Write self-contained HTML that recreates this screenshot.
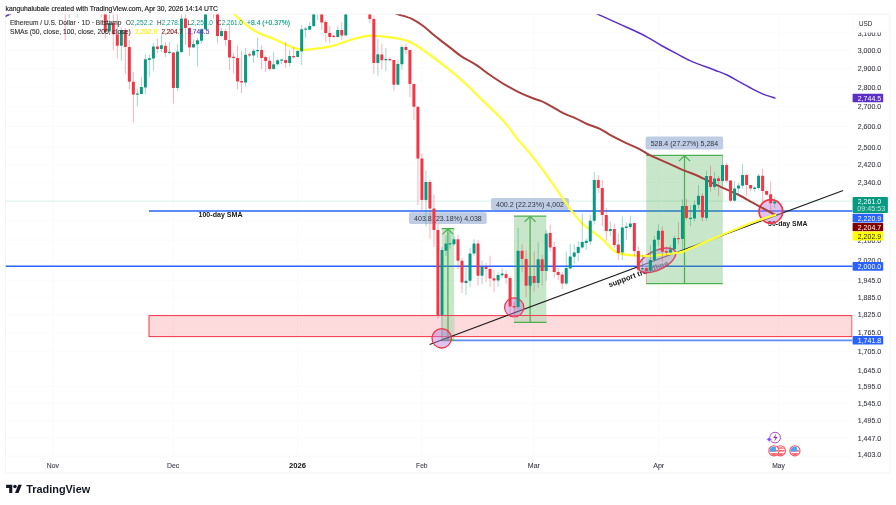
<!DOCTYPE html>
<html lang="en"><head><meta charset="utf-8"><title>ETHUSD chart</title>
<style>html,body{margin:0;padding:0;background:#fff;overflow:hidden}svg{display:block}text{font-family:"Liberation Sans",Arial,sans-serif;}</style></head><body>
<svg width="896" height="505" viewBox="0 0 896 505">
<rect x="0" y="0" width="896" height="505" fill="#ffffff"/>
<g stroke="#fafafb" stroke-width="1" fill="none">
<line x1="5.5" y1="33.0" x2="852" y2="33.0" stroke-opacity="0.8"/>
<line x1="5.5" y1="50.4" x2="852" y2="50.4" stroke-opacity="0.8"/>
<line x1="5.5" y1="68.4" x2="852" y2="68.4" stroke-opacity="0.8"/>
<line x1="5.5" y1="87.1" x2="852" y2="87.1" stroke-opacity="0.8"/>
<line x1="5.5" y1="106.5" x2="852" y2="106.5" stroke-opacity="0.8"/>
<line x1="5.5" y1="126.5" x2="852" y2="126.5" stroke-opacity="0.8"/>
<line x1="5.5" y1="147.4" x2="852" y2="147.4" stroke-opacity="0.8"/>
<line x1="5.5" y1="164.7" x2="852" y2="164.7" stroke-opacity="0.8"/>
<line x1="5.5" y1="182.6" x2="852" y2="182.6" stroke-opacity="0.8"/>
<line x1="5.5" y1="220.3" x2="852" y2="220.3" stroke-opacity="0.8"/>
<line x1="5.5" y1="240.2" x2="852" y2="240.2" stroke-opacity="0.8"/>
<line x1="5.5" y1="260.8" x2="852" y2="260.8" stroke-opacity="0.8"/>
<line x1="5.5" y1="280.9" x2="852" y2="280.9" stroke-opacity="0.8"/>
<line x1="5.5" y1="297.6" x2="852" y2="297.6" stroke-opacity="0.8"/>
<line x1="5.5" y1="314.8" x2="852" y2="314.8" stroke-opacity="0.8"/>
<line x1="5.5" y1="332.6" x2="852" y2="332.6" stroke-opacity="0.8"/>
<line x1="5.5" y1="351.0" x2="852" y2="351.0" stroke-opacity="0.8"/>
<line x1="5.5" y1="370.1" x2="852" y2="370.1" stroke-opacity="0.8"/>
<line x1="5.5" y1="386.5" x2="852" y2="386.5" stroke-opacity="0.8"/>
<line x1="5.5" y1="403.4" x2="852" y2="403.4" stroke-opacity="0.8"/>
<line x1="5.5" y1="420.9" x2="852" y2="420.9" stroke-opacity="0.8"/>
<line x1="5.5" y1="438.3" x2="852" y2="438.3" stroke-opacity="0.8"/>
<line x1="5.5" y1="454.7" x2="852" y2="454.7" stroke-opacity="0.8"/>
<line x1="52.9" y1="14.3" x2="52.9" y2="456" stroke-opacity="0.8"/>
<line x1="173.2" y1="14.3" x2="173.2" y2="456" stroke-opacity="0.8"/>
<line x1="297.5" y1="14.3" x2="297.5" y2="456" stroke-opacity="0.8"/>
<line x1="421.8" y1="14.3" x2="421.8" y2="456" stroke-opacity="0.8"/>
<line x1="533.9" y1="14.3" x2="533.9" y2="456" stroke-opacity="0.8"/>
<line x1="658.7" y1="14.3" x2="658.7" y2="456" stroke-opacity="0.8"/>
<line x1="778.5" y1="14.3" x2="778.5" y2="456" stroke-opacity="0.8"/>
</g>
<g stroke="#f3f4f6" stroke-width="1" fill="none">
<line x1="5.5" y1="14" x2="890" y2="14"/>
<line x1="5.5" y1="14" x2="5.5" y2="473"/>
<line x1="890" y1="14" x2="890" y2="473"/>
<line x1="5.5" y1="473" x2="890" y2="473"/>
<line x1="5.5" y1="456.5" x2="852" y2="456.5" stroke-opacity="0.35"/>
</g>
<defs><clipPath id="pane"><rect x="5.5" y="14.3" width="847" height="442"/></clipPath></defs>
<g clip-path="url(#pane)">
<line x1="5.5" y1="266.2" x2="852.5" y2="266.2" stroke="#2962ff" stroke-width="1.6"/>
<line x1="149" y1="211" x2="852.5" y2="211" stroke="#5b8cf8" stroke-width="2.1"/>
<line x1="441.7" y1="340.3" x2="852.5" y2="340.3" stroke="#5b8cf8" stroke-width="1.8"/>
<line x1="5.5" y1="201.1" x2="852.5" y2="201.1" stroke="#089981" stroke-opacity="0.55" stroke-width="0.6" stroke-dasharray="1 1"/>
<rect x="441.6" y="228.6" width="12.6" height="111.8" fill="#4caf50" fill-opacity="0.31"/>
<g stroke="#4caf50" stroke-width="1.25" fill="none">
<line x1="441.6" y1="228.6" x2="454.2" y2="228.6"/>
<line x1="441.6" y1="340.4" x2="454.2" y2="340.4"/>
<line x1="447.9" y1="228.6" x2="447.9" y2="340.4"/>
<polyline points="442.4,234.4 447.9,228.9 453.4,234.4"/>
</g>
<rect x="409" y="212.3" width="77.7" height="11.6" rx="2" ry="2" fill="#bfcde4"/>
<text x="447.9" y="220.6" font-size="7" fill="#2f3443" text-anchor="middle" textLength="67.7" lengthAdjust="spacingAndGlyphs">403.8 (23.18%) 4,038</text>
<rect x="514.0" y="216.1" width="32.3" height="106.3" fill="#4caf50" fill-opacity="0.31"/>
<g stroke="#4caf50" stroke-width="1.25" fill="none">
<line x1="514.0" y1="216.1" x2="546.3" y2="216.1"/>
<line x1="514.0" y1="322.4" x2="546.3" y2="322.4"/>
<line x1="530.1" y1="216.1" x2="530.1" y2="322.4"/>
<polyline points="524.6,221.9 530.1,216.4 535.6,221.9"/>
</g>
<rect x="491" y="198" width="78.1" height="12.0" rx="2" ry="2" fill="#bfcde4"/>
<text x="530.0" y="206.5" font-size="7" fill="#2f3443" text-anchor="middle" textLength="68.1" lengthAdjust="spacingAndGlyphs">400.2 (22.23%) 4,002</text>
<rect x="646.2" y="155.3" width="76.6" height="128.2" fill="#4caf50" fill-opacity="0.31"/>
<g stroke="#4caf50" stroke-width="1.25" fill="none">
<line x1="646.2" y1="155.3" x2="722.8" y2="155.3"/>
<line x1="646.2" y1="283.5" x2="722.8" y2="283.5"/>
<line x1="684.5" y1="155.3" x2="684.5" y2="283.5"/>
<polyline points="679.0,161.1 684.5,155.6 690.0,161.1"/>
</g>
<rect x="645.6" y="136.5" width="77.5" height="13.1" rx="2" ry="2" fill="#bfcde4"/>
<text x="684.4" y="145.6" font-size="7" fill="#2f3443" text-anchor="middle" textLength="67.5" lengthAdjust="spacingAndGlyphs">528.4 (27.27%) 5,284</text>
<rect x="149" y="315.6" width="703" height="21" fill="#f23645" fill-opacity="0.18" stroke="#f23645" stroke-width="1"/>
<rect x="441.6" y="316.1" width="12.6" height="20" fill="#d3d6c4"/>
<rect x="514.0" y="316.1" width="32.3" height="6.3" fill="#d3d6c4"/>
<g stroke="#4caf50" stroke-width="1.25"><line x1="448" y1="316" x2="448" y2="340.4"/><line x1="530.2" y1="316" x2="530.2" y2="322.4"/><line x1="514" y1="322.4" x2="546.3" y2="322.4"/></g>
<line x1="429.6" y1="344.4" x2="843.1" y2="190.4" stroke="#1e1e1e" stroke-width="1.1"/>
<text x="220.5" y="216.8" font-size="7.7" font-weight="bold" fill="#1a1a1a" text-anchor="middle" textLength="44" lengthAdjust="spacingAndGlyphs">100-day SMA</text>
<text x="787.8" y="226.2" font-size="7.7" font-weight="bold" fill="#1a1a1a" text-anchor="middle" textLength="39.4" lengthAdjust="spacingAndGlyphs">50-day SMA</text>
<text transform="translate(609.4,287.4) rotate(-20.4)" x="0" y="0" font-size="7.6" font-weight="bold" fill="#1a1a1a" textLength="63.5" lengthAdjust="spacingAndGlyphs">support trendline</text>
<circle cx="441.7" cy="338.3" r="9.7" fill="#bd78dc" fill-opacity="0.45" stroke="#f23645" stroke-width="1.3"/>
<circle cx="514.2" cy="307.4" r="9.6" fill="#bd78dc" fill-opacity="0.45" stroke="#f23645" stroke-width="1.2"/>
<ellipse cx="657" cy="260.3" rx="20.3" ry="9.6" transform="rotate(-26 657 260.3)" fill="#c4aed4" fill-opacity="0.58" stroke="#d6385a" stroke-opacity="0.9" stroke-width="1.5"/>
<circle cx="770.9" cy="211.4" r="11.8" fill="#bd78dc" fill-opacity="0.45" stroke="#f23645" stroke-width="1.7"/>
<path d="M5.4,16.4 C6.2,16.0 8.9,14.6 10.0,14.0 C11.1,13.4 11.7,13.2 12.0,13.0" fill="none" stroke="#5e35c9" stroke-width="1.6" stroke-opacity="1" stroke-linecap="round" stroke-linejoin="round"/>
<path d="M594.0,12.5 C594.8,12.8 594.5,12.8 598.6,14.6 C602.7,16.4 612.9,21.0 618.6,23.6 C624.3,26.2 628.1,27.8 632.9,30.0 C637.6,32.2 642.4,34.5 647.1,37.1 C651.9,39.7 656.6,42.8 661.4,45.5 C666.2,48.2 670.9,50.7 675.7,53.2 C680.5,55.7 685.2,58.4 690.0,60.6 C694.8,62.8 699.6,64.5 704.3,66.3 C709.0,68.1 714.2,70.0 718.0,71.4 C721.8,72.9 723.2,73.1 727.1,75.0 C731.0,76.9 736.6,80.3 741.4,82.9 C746.2,85.5 751.9,88.8 755.7,90.7 C759.5,92.7 761.1,93.4 764.3,94.6 C767.5,95.8 773.2,97.5 775.0,98.1" fill="none" stroke="#5b30c8" stroke-width="1.5" stroke-opacity="1" stroke-linecap="round" stroke-linejoin="round"/>
<path d="M394.0,12.6 C394.8,12.9 395.7,13.5 398.6,14.5 C401.5,15.5 407.3,16.7 411.4,18.6 C415.4,20.5 419.3,23.1 422.9,25.7 C426.5,28.3 429.6,31.6 432.9,34.3 C436.2,37.0 439.8,39.7 442.9,42.1 C446.0,44.5 448.3,46.2 451.4,48.6 C454.5,51.0 457.3,53.7 461.4,56.4 C465.4,59.1 470.9,61.6 475.7,64.7 C480.5,67.8 485.2,71.7 490.0,75.0 C494.8,78.3 499.5,81.5 504.3,84.3 C509.1,87.1 513.8,89.8 518.6,92.1 C523.4,94.4 529.1,96.8 532.9,98.3 C536.7,99.8 538.3,99.8 541.4,101.2 C544.5,102.6 547.6,104.3 551.4,106.4 C555.2,108.5 560.2,111.6 564.3,113.6 C568.3,115.6 571.9,116.6 575.7,118.3 C579.5,120.0 583.1,122.2 587.1,124.0 C591.1,125.8 596.0,127.0 600.0,128.9 C604.0,130.8 607.1,133.4 611.4,135.7 C615.7,138.0 620.9,140.6 625.7,142.9 C630.5,145.2 635.9,147.2 640.0,149.3 C644.1,151.4 645.5,153.0 650.3,155.4 C655.1,157.8 663.2,161.1 668.9,163.6 C674.6,166.1 680.1,168.8 684.6,170.7 C689.1,172.6 691.7,173.1 696.0,175.0 C700.3,176.9 705.5,179.8 710.3,182.1 C715.1,184.4 719.8,186.4 724.6,188.6 C729.4,190.8 734.1,192.6 738.9,195.0 C743.6,197.4 748.4,200.3 753.1,202.9 C757.9,205.5 763.7,208.7 767.4,210.7 C771.1,212.7 774.0,214.3 775.3,215.0" fill="none" stroke="#a8403f" stroke-width="2.0" stroke-opacity="1" stroke-linecap="round" stroke-linejoin="round"/>
<path d="M232.0,12.0 C232.4,12.4 232.4,12.4 234.5,14.3 C236.6,16.2 240.7,20.5 244.6,23.6 C248.5,26.7 253.4,30.3 258.0,32.8 C262.6,35.2 267.6,36.3 272.3,38.3 C277.1,40.3 282.6,43.0 286.5,44.7 C290.4,46.4 293.0,47.8 296.0,48.6 C299.0,49.5 301.3,49.8 304.6,49.8 C307.9,49.8 311.7,49.3 316.0,48.7 C320.3,48.1 325.8,47.4 330.3,46.4 C334.8,45.4 339.7,43.6 343.0,42.5 C346.3,41.4 346.7,41.0 350.3,40.0 C353.9,39.0 361.0,37.1 364.6,36.4 C368.2,35.7 368.1,35.6 371.7,35.7 C375.3,35.8 381.5,36.4 386.0,36.9 C390.5,37.4 394.8,38.0 398.6,38.7 C402.4,39.4 405.3,39.9 408.6,41.3 C411.9,42.7 414.6,44.4 418.6,47.0 C422.7,49.6 428.1,53.5 432.9,57.0 C437.6,60.5 443.1,64.7 447.1,67.9 C451.2,71.1 453.0,72.5 457.2,76.2 C461.4,79.9 467.6,85.7 472.1,90.0 C476.6,94.3 479.9,97.8 484.3,102.1 C488.7,106.4 494.6,111.5 498.6,115.7 C502.7,119.9 505.5,123.3 508.6,127.1 C511.7,130.9 514.0,134.8 517.1,138.6 C520.2,142.4 523.9,146.2 527.1,150.0 C530.3,153.8 532.8,156.8 536.4,161.4 C540.0,166.1 544.2,171.7 548.6,177.9 C553.0,184.1 559.1,193.1 562.9,198.6 C566.7,204.1 568.3,206.6 571.4,210.7 C574.5,214.8 578.1,219.3 581.7,222.9 C585.3,226.5 589.8,229.5 593.1,232.1 C596.4,234.7 598.3,235.6 601.7,238.6 C605.1,241.6 610.4,247.8 613.5,250.3 C616.6,252.8 617.5,252.8 620.3,253.6 C623.1,254.4 626.3,254.8 630.3,255.2 C634.2,255.6 640.7,255.8 644.0,255.9 C647.3,256.0 646.8,256.2 650.0,256.0 C653.2,255.8 659.0,255.1 663.1,254.6 C667.2,254.1 671.1,253.7 674.6,253.1 C678.1,252.5 678.9,253.1 684.4,251.1 C689.9,249.1 701.5,243.6 707.9,240.8 C714.3,238.0 717.0,237.0 723.0,234.5 C729.0,232.0 738.0,228.2 743.9,225.9 C749.8,223.6 753.9,222.0 758.1,220.5 C762.3,219.0 766.0,217.8 768.9,216.9 C771.8,216.0 774.2,215.3 775.3,215.0" fill="none" stroke="#ffff33" stroke-width="2.2" stroke-opacity="1" stroke-linecap="round" stroke-linejoin="round"/>
<g>
<rect x="64.72" y="14.3" width="1" height="25.7" fill="#f23645" fill-opacity="0.38"/>
<rect x="68.73" y="14.3" width="1" height="3.7" fill="#089981" fill-opacity="0.38"/>
<rect x="76.74" y="14.3" width="1" height="3.2" fill="#089981" fill-opacity="0.38"/>
<rect x="100.79" y="14.3" width="1" height="3.2" fill="#f23645" fill-opacity="0.38"/>
<rect x="104.80" y="14.3" width="1" height="24.3" fill="#f23645" fill-opacity="0.38"/>
<rect x="103.80" y="14.3" width="3" height="17.7" fill="#f23645" rx="0.4"/>
<rect x="108.81" y="14.3" width="1" height="18.7" fill="#089981" fill-opacity="0.38"/>
<rect x="107.81" y="23.0" width="3" height="8.4" fill="#089981" rx="0.4"/>
<rect x="112.82" y="14.3" width="1" height="35.7" fill="#f23645" fill-opacity="0.38"/>
<rect x="111.82" y="23.0" width="3" height="11.3" fill="#f23645" rx="0.4"/>
<rect x="116.82" y="14.3" width="1" height="44.3" fill="#f23645" fill-opacity="0.38"/>
<rect x="115.82" y="34.3" width="3" height="11.4" fill="#f23645" rx="0.4"/>
<rect x="120.83" y="27.0" width="1" height="33.7" fill="#089981" fill-opacity="0.38"/>
<rect x="119.83" y="30.0" width="3" height="15.7" fill="#089981" rx="0.4"/>
<rect x="124.84" y="28.0" width="1" height="46.0" fill="#f23645" fill-opacity="0.38"/>
<rect x="123.84" y="30.0" width="3" height="17.0" fill="#f23645" rx="0.4"/>
<rect x="128.85" y="40.0" width="1" height="49.3" fill="#f23645" fill-opacity="0.38"/>
<rect x="127.85" y="47.0" width="3" height="34.7" fill="#f23645" rx="0.4"/>
<rect x="132.86" y="72.1" width="1" height="50.8" fill="#f23645" fill-opacity="0.38"/>
<rect x="131.86" y="81.7" width="3" height="12.9" fill="#f23645" rx="0.4"/>
<rect x="136.86" y="88.6" width="1" height="17.8" fill="#089981" fill-opacity="0.38"/>
<rect x="135.86" y="93.5" width="3" height="1.3" fill="#089981" rx="0.4"/>
<rect x="140.87" y="77.1" width="1" height="17.2" fill="#089981" fill-opacity="0.38"/>
<rect x="139.87" y="87.1" width="3" height="6.9" fill="#089981" rx="0.4"/>
<rect x="144.88" y="54.3" width="1" height="40.0" fill="#089981" fill-opacity="0.38"/>
<rect x="143.88" y="59.3" width="3" height="28.3" fill="#089981" rx="0.4"/>
<rect x="148.89" y="55.0" width="1" height="22.1" fill="#089981" fill-opacity="0.38"/>
<rect x="147.89" y="58.3" width="3" height="1.7" fill="#089981" rx="0.4"/>
<rect x="152.90" y="42.9" width="1" height="27.8" fill="#089981" fill-opacity="0.38"/>
<rect x="151.90" y="46.4" width="3" height="12.2" fill="#089981" rx="0.4"/>
<rect x="156.90" y="38.6" width="1" height="14.3" fill="#f23645" fill-opacity="0.38"/>
<rect x="155.90" y="46.4" width="3" height="2.5" fill="#f23645" rx="0.4"/>
<rect x="160.91" y="34.3" width="1" height="17.8" fill="#089981" fill-opacity="0.38"/>
<rect x="159.91" y="45.3" width="3" height="3.6" fill="#089981" rx="0.4"/>
<rect x="164.92" y="42.1" width="1" height="15.0" fill="#f23645" fill-opacity="0.38"/>
<rect x="163.92" y="45.7" width="3" height="7.2" fill="#f23645" rx="0.4"/>
<rect x="168.93" y="42.1" width="1" height="12.2" fill="#089981" fill-opacity="0.38"/>
<rect x="167.93" y="51.8" width="3" height="1.3" fill="#089981" rx="0.4"/>
<rect x="172.94" y="52.4" width="1" height="51.2" fill="#f23645" fill-opacity="0.38"/>
<rect x="171.94" y="52.4" width="3" height="35.5" fill="#f23645" rx="0.4"/>
<rect x="176.94" y="44.3" width="1" height="46.4" fill="#089981" fill-opacity="0.38"/>
<rect x="175.94" y="51.4" width="3" height="36.5" fill="#089981" rx="0.4"/>
<rect x="180.95" y="14.3" width="1" height="38.6" fill="#089981" fill-opacity="0.38"/>
<rect x="179.95" y="18.6" width="3" height="33.3" fill="#089981" rx="0.4"/>
<rect x="184.96" y="14.3" width="1" height="30.7" fill="#f23645" fill-opacity="0.38"/>
<rect x="183.96" y="18.6" width="3" height="9.3" fill="#f23645" rx="0.4"/>
<rect x="188.97" y="27.0" width="1" height="28.7" fill="#f23645" fill-opacity="0.38"/>
<rect x="187.97" y="27.9" width="3" height="19.5" fill="#f23645" rx="0.4"/>
<rect x="192.98" y="39.3" width="1" height="8.1" fill="#089981" fill-opacity="0.38"/>
<rect x="191.98" y="44.0" width="3" height="3.4" fill="#089981" rx="0.4"/>
<rect x="196.98" y="37.9" width="1" height="28.5" fill="#089981" fill-opacity="0.38"/>
<rect x="195.98" y="40.3" width="3" height="4.0" fill="#089981" rx="0.4"/>
<rect x="200.99" y="27.9" width="1" height="15.7" fill="#089981" fill-opacity="0.38"/>
<rect x="199.99" y="29.3" width="3" height="11.4" fill="#089981" rx="0.4"/>
<rect x="205.00" y="14.3" width="1" height="15.7" fill="#089981" fill-opacity="0.38"/>
<rect x="204.00" y="14.3" width="3" height="15.0" fill="#089981" rx="0.4"/>
<rect x="213.02" y="14.3" width="1" height="4.3" fill="#f23645" fill-opacity="0.38"/>
<rect x="217.02" y="14.3" width="1" height="28.6" fill="#f23645" fill-opacity="0.38"/>
<rect x="216.02" y="14.3" width="3" height="21.8" fill="#f23645" rx="0.4"/>
<rect x="221.03" y="27.9" width="1" height="9.2" fill="#089981" fill-opacity="0.38"/>
<rect x="220.03" y="31.1" width="3" height="5.0" fill="#089981" rx="0.4"/>
<rect x="225.04" y="28.6" width="1" height="17.1" fill="#f23645" fill-opacity="0.38"/>
<rect x="224.04" y="31.1" width="3" height="8.9" fill="#f23645" rx="0.4"/>
<rect x="229.05" y="24.3" width="1" height="45.7" fill="#f23645" fill-opacity="0.38"/>
<rect x="228.05" y="40.0" width="3" height="17.4" fill="#f23645" rx="0.4"/>
<rect x="233.06" y="53.6" width="1" height="20.0" fill="#f23645" fill-opacity="0.38"/>
<rect x="232.06" y="56.8" width="3" height="1.3" fill="#f23645" rx="0.4"/>
<rect x="237.06" y="45.7" width="1" height="43.6" fill="#f23645" fill-opacity="0.38"/>
<rect x="236.06" y="57.9" width="3" height="23.5" fill="#f23645" rx="0.4"/>
<rect x="241.07" y="51.4" width="1" height="41.5" fill="#f23645" fill-opacity="0.38"/>
<rect x="240.07" y="81.1" width="3" height="1.5" fill="#f23645" rx="0.4"/>
<rect x="245.08" y="47.9" width="1" height="38.5" fill="#089981" fill-opacity="0.38"/>
<rect x="244.08" y="54.7" width="3" height="27.9" fill="#089981" rx="0.4"/>
<rect x="249.09" y="52.1" width="1" height="5.0" fill="#f23645" fill-opacity="0.38"/>
<rect x="248.09" y="54.2" width="3" height="1.3" fill="#f23645" rx="0.4"/>
<rect x="253.10" y="48.6" width="1" height="14.3" fill="#089981" fill-opacity="0.38"/>
<rect x="252.10" y="50.7" width="3" height="4.7" fill="#089981" rx="0.4"/>
<rect x="257.10" y="37.9" width="1" height="20.0" fill="#089981" fill-opacity="0.38"/>
<rect x="256.10" y="49.9" width="3" height="1.3" fill="#089981" rx="0.4"/>
<rect x="261.11" y="45.0" width="1" height="24.3" fill="#f23645" fill-opacity="0.38"/>
<rect x="260.11" y="50.0" width="3" height="7.9" fill="#f23645" rx="0.4"/>
<rect x="265.12" y="55.7" width="1" height="16.4" fill="#f23645" fill-opacity="0.38"/>
<rect x="264.12" y="57.1" width="3" height="3.9" fill="#f23645" rx="0.4"/>
<rect x="269.13" y="56.4" width="1" height="14.3" fill="#f23645" fill-opacity="0.38"/>
<rect x="268.13" y="60.7" width="3" height="8.2" fill="#f23645" rx="0.4"/>
<rect x="273.14" y="52.1" width="1" height="17.9" fill="#089981" fill-opacity="0.38"/>
<rect x="272.14" y="64.3" width="3" height="4.6" fill="#089981" rx="0.4"/>
<rect x="277.14" y="58.6" width="1" height="7.1" fill="#089981" fill-opacity="0.38"/>
<rect x="276.14" y="60.3" width="3" height="4.0" fill="#089981" rx="0.4"/>
<rect x="281.15" y="58.6" width="1" height="5.7" fill="#089981" fill-opacity="0.38"/>
<rect x="280.15" y="59.4" width="3" height="1.3" fill="#089981" rx="0.4"/>
<rect x="285.16" y="42.1" width="1" height="25.8" fill="#f23645" fill-opacity="0.38"/>
<rect x="284.16" y="60.0" width="3" height="3.1" fill="#f23645" rx="0.4"/>
<rect x="289.17" y="50.0" width="1" height="16.4" fill="#089981" fill-opacity="0.38"/>
<rect x="288.17" y="56.1" width="3" height="7.0" fill="#089981" rx="0.4"/>
<rect x="293.18" y="47.1" width="1" height="11.5" fill="#f23645" fill-opacity="0.38"/>
<rect x="292.18" y="55.9" width="3" height="1.3" fill="#f23645" rx="0.4"/>
<rect x="297.18" y="50.0" width="1" height="7.1" fill="#089981" fill-opacity="0.38"/>
<rect x="296.18" y="51.1" width="3" height="5.8" fill="#089981" rx="0.4"/>
<rect x="301.19" y="25.0" width="1" height="40.0" fill="#089981" fill-opacity="0.38"/>
<rect x="300.19" y="29.3" width="3" height="22.1" fill="#089981" rx="0.4"/>
<rect x="305.20" y="27.1" width="1" height="10.8" fill="#089981" fill-opacity="0.38"/>
<rect x="304.20" y="28.5" width="3" height="1.3" fill="#089981" rx="0.4"/>
<rect x="309.21" y="22.1" width="1" height="7.9" fill="#089981" fill-opacity="0.38"/>
<rect x="308.21" y="26.0" width="3" height="3.7" fill="#089981" rx="0.4"/>
<rect x="313.22" y="14.3" width="1" height="12.8" fill="#089981" fill-opacity="0.38"/>
<rect x="312.22" y="14.3" width="3" height="11.7" fill="#089981" rx="0.4"/>
<rect x="317.22" y="14.3" width="1" height="5.7" fill="#089981" fill-opacity="0.38"/>
<rect x="321.23" y="14.3" width="1" height="15.7" fill="#f23645" fill-opacity="0.38"/>
<rect x="320.23" y="14.3" width="3" height="8.3" fill="#f23645" rx="0.4"/>
<rect x="325.24" y="20.0" width="1" height="22.1" fill="#f23645" fill-opacity="0.38"/>
<rect x="324.24" y="22.1" width="3" height="11.0" fill="#f23645" rx="0.4"/>
<rect x="329.25" y="25.7" width="1" height="17.2" fill="#f23645" fill-opacity="0.38"/>
<rect x="328.25" y="33.1" width="3" height="3.8" fill="#f23645" rx="0.4"/>
<rect x="333.26" y="34.3" width="1" height="3.6" fill="#f23645" fill-opacity="0.38"/>
<rect x="332.26" y="35.8" width="3" height="1.3" fill="#f23645" rx="0.4"/>
<rect x="337.26" y="26.4" width="1" height="10.7" fill="#089981" fill-opacity="0.38"/>
<rect x="336.26" y="30.0" width="3" height="6.9" fill="#089981" rx="0.4"/>
<rect x="341.27" y="22.1" width="1" height="17.9" fill="#f23645" fill-opacity="0.38"/>
<rect x="340.27" y="30.0" width="3" height="5.4" fill="#f23645" rx="0.4"/>
<rect x="345.28" y="14.3" width="1" height="21.1" fill="#089981" fill-opacity="0.38"/>
<rect x="344.28" y="14.3" width="3" height="21.1" fill="#089981" rx="0.4"/>
<rect x="369.33" y="14.3" width="1" height="8.6" fill="#f23645" fill-opacity="0.38"/>
<rect x="368.33" y="14.3" width="3" height="4.6" fill="#f23645" rx="0.4"/>
<rect x="373.34" y="16.4" width="1" height="57.2" fill="#f23645" fill-opacity="0.38"/>
<rect x="372.34" y="18.9" width="3" height="44.0" fill="#f23645" rx="0.4"/>
<rect x="377.34" y="38.6" width="1" height="37.1" fill="#089981" fill-opacity="0.38"/>
<rect x="376.34" y="54.3" width="3" height="8.6" fill="#089981" rx="0.4"/>
<rect x="381.35" y="43.6" width="1" height="25.7" fill="#f23645" fill-opacity="0.38"/>
<rect x="380.35" y="54.6" width="3" height="5.7" fill="#f23645" rx="0.4"/>
<rect x="385.36" y="47.9" width="1" height="23.5" fill="#089981" fill-opacity="0.38"/>
<rect x="384.36" y="59.0" width="3" height="1.3" fill="#089981" rx="0.4"/>
<rect x="389.37" y="57.1" width="1" height="4.3" fill="#f23645" fill-opacity="0.38"/>
<rect x="388.37" y="59.0" width="3" height="1.3" fill="#f23645" rx="0.4"/>
<rect x="393.38" y="60.0" width="1" height="30.7" fill="#f23645" fill-opacity="0.38"/>
<rect x="392.38" y="60.0" width="3" height="24.7" fill="#f23645" rx="0.4"/>
<rect x="397.38" y="60.0" width="1" height="24.7" fill="#089981" fill-opacity="0.38"/>
<rect x="396.38" y="64.0" width="3" height="20.7" fill="#089981" rx="0.4"/>
<rect x="401.39" y="45.0" width="1" height="25.0" fill="#089981" fill-opacity="0.38"/>
<rect x="400.39" y="46.9" width="3" height="17.4" fill="#089981" rx="0.4"/>
<rect x="405.40" y="43.6" width="1" height="10.7" fill="#f23645" fill-opacity="0.38"/>
<rect x="404.40" y="46.9" width="3" height="3.1" fill="#f23645" rx="0.4"/>
<rect x="409.41" y="50.0" width="1" height="47.1" fill="#f23645" fill-opacity="0.38"/>
<rect x="408.41" y="50.0" width="3" height="33.9" fill="#f23645" rx="0.4"/>
<rect x="413.42" y="83.9" width="1" height="36.1" fill="#f23645" fill-opacity="0.38"/>
<rect x="412.42" y="83.9" width="3" height="22.8" fill="#f23645" rx="0.4"/>
<rect x="417.42" y="106.7" width="1" height="98.3" fill="#f23645" fill-opacity="0.38"/>
<rect x="416.42" y="106.7" width="3" height="51.9" fill="#f23645" rx="0.4"/>
<rect x="421.43" y="153.6" width="1" height="56.4" fill="#f23645" fill-opacity="0.38"/>
<rect x="420.43" y="158.6" width="3" height="41.4" fill="#f23645" rx="0.4"/>
<rect x="425.44" y="170.7" width="1" height="55.7" fill="#089981" fill-opacity="0.38"/>
<rect x="424.44" y="182.1" width="3" height="17.9" fill="#089981" rx="0.4"/>
<rect x="429.45" y="179.3" width="1" height="59.3" fill="#f23645" fill-opacity="0.38"/>
<rect x="428.45" y="182.1" width="3" height="26.5" fill="#f23645" rx="0.4"/>
<rect x="433.46" y="194.3" width="1" height="52.7" fill="#f23645" fill-opacity="0.38"/>
<rect x="432.46" y="208.6" width="3" height="21.4" fill="#f23645" rx="0.4"/>
<rect x="437.46" y="224.0" width="1" height="94.6" fill="#f23645" fill-opacity="0.38"/>
<rect x="436.46" y="230.0" width="3" height="85.0" fill="#f23645" rx="0.4"/>
<rect x="441.47" y="247.0" width="1" height="92.7" fill="#089981" fill-opacity="0.38"/>
<rect x="440.47" y="250.0" width="3" height="65.0" fill="#089981" rx="0.4"/>
<rect x="445.48" y="235.7" width="1" height="20.3" fill="#089981" fill-opacity="0.38"/>
<rect x="444.48" y="243.6" width="3" height="7.1" fill="#089981" rx="0.4"/>
<rect x="449.49" y="231.4" width="1" height="17.2" fill="#089981" fill-opacity="0.38"/>
<rect x="448.49" y="243.2" width="3" height="1.3" fill="#089981" rx="0.4"/>
<rect x="453.50" y="236.0" width="1" height="10.0" fill="#089981" fill-opacity="0.38"/>
<rect x="452.50" y="239.3" width="3" height="5.0" fill="#089981" rx="0.4"/>
<rect x="457.50" y="235.0" width="1" height="34.3" fill="#f23645" fill-opacity="0.38"/>
<rect x="456.50" y="239.3" width="3" height="21.4" fill="#f23645" rx="0.4"/>
<rect x="461.51" y="257.9" width="1" height="35.0" fill="#f23645" fill-opacity="0.38"/>
<rect x="460.51" y="260.7" width="3" height="21.9" fill="#f23645" rx="0.4"/>
<rect x="465.52" y="266.4" width="1" height="28.6" fill="#089981" fill-opacity="0.38"/>
<rect x="464.52" y="280.7" width="3" height="2.2" fill="#089981" rx="0.4"/>
<rect x="469.53" y="247.9" width="1" height="39.2" fill="#089981" fill-opacity="0.38"/>
<rect x="468.53" y="253.6" width="3" height="27.1" fill="#089981" rx="0.4"/>
<rect x="473.54" y="239.3" width="1" height="16.7" fill="#089981" fill-opacity="0.38"/>
<rect x="472.54" y="243.6" width="3" height="10.0" fill="#089981" rx="0.4"/>
<rect x="477.54" y="240.0" width="1" height="45.7" fill="#f23645" fill-opacity="0.38"/>
<rect x="476.54" y="243.6" width="3" height="32.1" fill="#f23645" rx="0.4"/>
<rect x="481.55" y="260.7" width="1" height="23.6" fill="#089981" fill-opacity="0.38"/>
<rect x="480.55" y="267.1" width="3" height="8.6" fill="#089981" rx="0.4"/>
<rect x="485.56" y="262.9" width="1" height="19.2" fill="#f23645" fill-opacity="0.38"/>
<rect x="484.56" y="266.9" width="3" height="2.0" fill="#f23645" rx="0.4"/>
<rect x="489.57" y="255.7" width="1" height="31.4" fill="#f23645" fill-opacity="0.38"/>
<rect x="488.57" y="268.9" width="3" height="9.7" fill="#f23645" rx="0.4"/>
<rect x="493.58" y="270.0" width="1" height="22.1" fill="#f23645" fill-opacity="0.38"/>
<rect x="492.58" y="278.3" width="3" height="2.1" fill="#f23645" rx="0.4"/>
<rect x="497.58" y="272.1" width="1" height="14.8" fill="#089981" fill-opacity="0.38"/>
<rect x="496.58" y="275.0" width="3" height="5.4" fill="#089981" rx="0.4"/>
<rect x="501.59" y="267.9" width="1" height="10.0" fill="#089981" fill-opacity="0.38"/>
<rect x="500.59" y="273.6" width="3" height="1.7" fill="#089981" rx="0.4"/>
<rect x="505.60" y="270.7" width="1" height="12.9" fill="#f23645" fill-opacity="0.38"/>
<rect x="504.60" y="273.9" width="3" height="4.1" fill="#f23645" rx="0.4"/>
<rect x="509.61" y="276.0" width="1" height="36.9" fill="#f23645" fill-opacity="0.38"/>
<rect x="508.61" y="278.0" width="3" height="28.4" fill="#f23645" rx="0.4"/>
<rect x="513.62" y="302.0" width="1" height="14.0" fill="#f23645" fill-opacity="0.38"/>
<rect x="512.62" y="306.0" width="3" height="1.6" fill="#f23645" rx="0.4"/>
<rect x="517.62" y="227.9" width="1" height="81.1" fill="#089981" fill-opacity="0.38"/>
<rect x="516.62" y="250.7" width="3" height="56.4" fill="#089981" rx="0.4"/>
<rect x="521.63" y="244.3" width="1" height="27.8" fill="#f23645" fill-opacity="0.38"/>
<rect x="520.63" y="250.7" width="3" height="8.2" fill="#f23645" rx="0.4"/>
<rect x="525.64" y="250.0" width="1" height="47.1" fill="#f23645" fill-opacity="0.38"/>
<rect x="524.64" y="258.9" width="3" height="26.8" fill="#f23645" rx="0.4"/>
<rect x="529.65" y="265.0" width="1" height="25.0" fill="#089981" fill-opacity="0.38"/>
<rect x="528.65" y="276.0" width="3" height="9.7" fill="#089981" rx="0.4"/>
<rect x="533.66" y="251.4" width="1" height="40.0" fill="#f23645" fill-opacity="0.38"/>
<rect x="532.66" y="276.0" width="3" height="6.9" fill="#f23645" rx="0.4"/>
<rect x="537.66" y="242.1" width="1" height="45.8" fill="#089981" fill-opacity="0.38"/>
<rect x="536.66" y="259.3" width="3" height="23.6" fill="#089981" rx="0.4"/>
<rect x="541.67" y="255.0" width="1" height="30.7" fill="#f23645" fill-opacity="0.38"/>
<rect x="540.67" y="259.3" width="3" height="11.8" fill="#f23645" rx="0.4"/>
<rect x="545.68" y="230.0" width="1" height="50.7" fill="#089981" fill-opacity="0.38"/>
<rect x="544.68" y="233.6" width="3" height="37.5" fill="#089981" rx="0.4"/>
<rect x="549.69" y="224.3" width="1" height="27.1" fill="#f23645" fill-opacity="0.38"/>
<rect x="548.69" y="232.9" width="3" height="14.7" fill="#f23645" rx="0.4"/>
<rect x="553.70" y="242.1" width="1" height="35.8" fill="#f23645" fill-opacity="0.38"/>
<rect x="552.70" y="247.1" width="3" height="25.0" fill="#f23645" rx="0.4"/>
<rect x="557.70" y="267.9" width="1" height="12.1" fill="#f23645" fill-opacity="0.38"/>
<rect x="556.70" y="272.1" width="3" height="2.9" fill="#f23645" rx="0.4"/>
<rect x="561.71" y="272.1" width="1" height="17.2" fill="#f23645" fill-opacity="0.38"/>
<rect x="560.71" y="274.6" width="3" height="9.0" fill="#f23645" rx="0.4"/>
<rect x="565.72" y="251.4" width="1" height="33.6" fill="#089981" fill-opacity="0.38"/>
<rect x="564.72" y="267.9" width="3" height="15.7" fill="#089981" rx="0.4"/>
<rect x="569.73" y="243.6" width="1" height="25.7" fill="#089981" fill-opacity="0.38"/>
<rect x="568.73" y="256.4" width="3" height="12.2" fill="#089981" rx="0.4"/>
<rect x="573.74" y="244.3" width="1" height="19.3" fill="#089981" fill-opacity="0.38"/>
<rect x="572.74" y="252.4" width="3" height="4.3" fill="#089981" rx="0.4"/>
<rect x="577.74" y="241.4" width="1" height="20.0" fill="#089981" fill-opacity="0.38"/>
<rect x="576.74" y="247.1" width="3" height="5.8" fill="#089981" rx="0.4"/>
<rect x="581.75" y="213.6" width="1" height="35.0" fill="#089981" fill-opacity="0.38"/>
<rect x="580.75" y="242.1" width="3" height="5.3" fill="#089981" rx="0.4"/>
<rect x="585.76" y="238.6" width="1" height="11.4" fill="#089981" fill-opacity="0.38"/>
<rect x="584.76" y="240.7" width="3" height="2.2" fill="#089981" rx="0.4"/>
<rect x="589.77" y="215.0" width="1" height="30.0" fill="#089981" fill-opacity="0.38"/>
<rect x="588.77" y="220.7" width="3" height="20.7" fill="#089981" rx="0.4"/>
<rect x="593.78" y="172.1" width="1" height="52.2" fill="#089981" fill-opacity="0.38"/>
<rect x="592.78" y="180.0" width="3" height="40.7" fill="#089981" rx="0.4"/>
<rect x="597.78" y="175.0" width="1" height="17.9" fill="#f23645" fill-opacity="0.38"/>
<rect x="596.78" y="180.0" width="3" height="7.9" fill="#f23645" rx="0.4"/>
<rect x="601.79" y="180.0" width="1" height="46.4" fill="#f23645" fill-opacity="0.38"/>
<rect x="600.79" y="187.9" width="3" height="27.1" fill="#f23645" rx="0.4"/>
<rect x="605.80" y="207.9" width="1" height="32.8" fill="#f23645" fill-opacity="0.38"/>
<rect x="604.80" y="215.0" width="3" height="16.1" fill="#f23645" rx="0.4"/>
<rect x="609.81" y="221.4" width="1" height="14.3" fill="#089981" fill-opacity="0.38"/>
<rect x="608.81" y="228.9" width="3" height="2.2" fill="#089981" rx="0.4"/>
<rect x="613.82" y="223.6" width="1" height="24.3" fill="#f23645" fill-opacity="0.38"/>
<rect x="612.82" y="228.9" width="3" height="16.1" fill="#f23645" rx="0.4"/>
<rect x="617.82" y="233.6" width="1" height="26.4" fill="#f23645" fill-opacity="0.38"/>
<rect x="616.82" y="244.6" width="3" height="8.3" fill="#f23645" rx="0.4"/>
<rect x="621.83" y="216.4" width="1" height="43.6" fill="#089981" fill-opacity="0.38"/>
<rect x="620.83" y="227.4" width="3" height="25.0" fill="#089981" rx="0.4"/>
<rect x="625.84" y="222.1" width="1" height="17.9" fill="#089981" fill-opacity="0.38"/>
<rect x="624.84" y="226.4" width="3" height="1.5" fill="#089981" rx="0.4"/>
<rect x="629.85" y="215.7" width="1" height="12.9" fill="#089981" fill-opacity="0.38"/>
<rect x="628.85" y="223.6" width="3" height="3.3" fill="#089981" rx="0.4"/>
<rect x="633.86" y="223.1" width="1" height="33.3" fill="#f23645" fill-opacity="0.38"/>
<rect x="632.86" y="223.1" width="3" height="27.9" fill="#f23645" rx="0.4"/>
<rect x="637.86" y="246.4" width="1" height="25.0" fill="#f23645" fill-opacity="0.38"/>
<rect x="636.86" y="251.0" width="3" height="18.7" fill="#f23645" rx="0.4"/>
<rect x="641.87" y="255.0" width="1" height="16.4" fill="#089981" fill-opacity="0.38"/>
<rect x="640.87" y="268.0" width="3" height="1.5" fill="#089981" rx="0.4"/>
<rect x="645.88" y="266.0" width="1" height="17.3" fill="#f23645" fill-opacity="0.38"/>
<rect x="644.88" y="268.0" width="3" height="2.7" fill="#f23645" rx="0.4"/>
<rect x="649.89" y="245.0" width="1" height="27.0" fill="#089981" fill-opacity="0.38"/>
<rect x="648.89" y="260.0" width="3" height="10.7" fill="#089981" rx="0.4"/>
<rect x="653.90" y="235.7" width="1" height="26.3" fill="#089981" fill-opacity="0.38"/>
<rect x="652.90" y="239.7" width="3" height="20.3" fill="#089981" rx="0.4"/>
<rect x="657.90" y="224.3" width="1" height="21.4" fill="#089981" fill-opacity="0.38"/>
<rect x="656.90" y="230.7" width="3" height="9.0" fill="#089981" rx="0.4"/>
<rect x="661.91" y="226.4" width="1" height="35.0" fill="#f23645" fill-opacity="0.38"/>
<rect x="660.91" y="230.7" width="3" height="21.0" fill="#f23645" rx="0.4"/>
<rect x="665.92" y="246.4" width="1" height="10.0" fill="#f23645" fill-opacity="0.38"/>
<rect x="664.92" y="251.1" width="3" height="1.5" fill="#f23645" rx="0.4"/>
<rect x="669.93" y="245.0" width="1" height="8.6" fill="#089981" fill-opacity="0.38"/>
<rect x="668.93" y="249.3" width="3" height="3.3" fill="#089981" rx="0.4"/>
<rect x="673.94" y="235.7" width="1" height="14.3" fill="#089981" fill-opacity="0.38"/>
<rect x="672.94" y="238.1" width="3" height="11.2" fill="#089981" rx="0.4"/>
<rect x="677.94" y="222.1" width="1" height="22.2" fill="#f23645" fill-opacity="0.38"/>
<rect x="676.94" y="237.9" width="3" height="1.3" fill="#f23645" rx="0.4"/>
<rect x="681.95" y="199.3" width="1" height="50.7" fill="#089981" fill-opacity="0.38"/>
<rect x="680.95" y="206.1" width="3" height="32.9" fill="#089981" rx="0.4"/>
<rect x="685.96" y="198.6" width="1" height="21.4" fill="#f23645" fill-opacity="0.38"/>
<rect x="684.96" y="206.1" width="3" height="11.8" fill="#f23645" rx="0.4"/>
<rect x="689.97" y="205.0" width="1" height="21.4" fill="#089981" fill-opacity="0.38"/>
<rect x="688.97" y="217.8" width="3" height="1.3" fill="#089981" rx="0.4"/>
<rect x="693.98" y="200.7" width="1" height="20.7" fill="#089981" fill-opacity="0.38"/>
<rect x="692.98" y="204.7" width="3" height="13.9" fill="#089981" rx="0.4"/>
<rect x="697.98" y="185.0" width="1" height="23.6" fill="#089981" fill-opacity="0.38"/>
<rect x="696.98" y="195.7" width="3" height="9.0" fill="#089981" rx="0.4"/>
<rect x="701.99" y="193.0" width="1" height="28.4" fill="#f23645" fill-opacity="0.38"/>
<rect x="700.99" y="195.7" width="3" height="21.9" fill="#f23645" rx="0.4"/>
<rect x="706.00" y="170.7" width="1" height="50.0" fill="#089981" fill-opacity="0.38"/>
<rect x="705.00" y="176.1" width="3" height="41.8" fill="#089981" rx="0.4"/>
<rect x="710.01" y="165.7" width="1" height="25.7" fill="#f23645" fill-opacity="0.38"/>
<rect x="709.01" y="176.1" width="3" height="10.8" fill="#f23645" rx="0.4"/>
<rect x="714.02" y="172.1" width="1" height="17.9" fill="#089981" fill-opacity="0.38"/>
<rect x="713.02" y="178.6" width="3" height="8.3" fill="#089981" rx="0.4"/>
<rect x="718.02" y="175.7" width="1" height="20.0" fill="#f23645" fill-opacity="0.38"/>
<rect x="717.02" y="178.3" width="3" height="2.8" fill="#f23645" rx="0.4"/>
<rect x="722.03" y="155.3" width="1" height="31.7" fill="#089981" fill-opacity="0.38"/>
<rect x="721.03" y="165.0" width="3" height="16.1" fill="#089981" rx="0.4"/>
<rect x="726.04" y="162.9" width="1" height="20.0" fill="#f23645" fill-opacity="0.38"/>
<rect x="725.04" y="165.0" width="3" height="15.7" fill="#f23645" rx="0.4"/>
<rect x="730.05" y="180.4" width="1" height="21.7" fill="#f23645" fill-opacity="0.38"/>
<rect x="729.05" y="180.4" width="3" height="20.3" fill="#f23645" rx="0.4"/>
<rect x="734.06" y="181.4" width="1" height="20.0" fill="#089981" fill-opacity="0.38"/>
<rect x="733.06" y="188.6" width="3" height="12.1" fill="#089981" rx="0.4"/>
<rect x="738.06" y="182.9" width="1" height="11.4" fill="#089981" fill-opacity="0.38"/>
<rect x="737.06" y="185.4" width="3" height="3.2" fill="#089981" rx="0.4"/>
<rect x="742.07" y="164.3" width="1" height="24.3" fill="#089981" fill-opacity="0.38"/>
<rect x="741.07" y="175.0" width="3" height="10.7" fill="#089981" rx="0.4"/>
<rect x="746.08" y="173.6" width="1" height="22.1" fill="#f23645" fill-opacity="0.38"/>
<rect x="745.08" y="175.0" width="3" height="10.0" fill="#f23645" rx="0.4"/>
<rect x="750.09" y="185.0" width="1" height="6.4" fill="#f23645" fill-opacity="0.38"/>
<rect x="749.09" y="185.0" width="3" height="3.6" fill="#f23645" rx="0.4"/>
<rect x="754.10" y="186.4" width="1" height="5.0" fill="#089981" fill-opacity="0.38"/>
<rect x="753.10" y="187.4" width="3" height="1.5" fill="#089981" rx="0.4"/>
<rect x="758.10" y="174.0" width="1" height="16.0" fill="#089981" fill-opacity="0.38"/>
<rect x="757.10" y="175.7" width="3" height="12.2" fill="#089981" rx="0.4"/>
<rect x="762.11" y="168.6" width="1" height="32.8" fill="#f23645" fill-opacity="0.38"/>
<rect x="761.11" y="175.7" width="3" height="15.4" fill="#f23645" rx="0.4"/>
<rect x="766.12" y="190.0" width="1" height="5.7" fill="#f23645" fill-opacity="0.38"/>
<rect x="765.12" y="191.1" width="3" height="3.6" fill="#f23645" rx="0.4"/>
<rect x="770.13" y="181.4" width="1" height="28.6" fill="#f23645" fill-opacity="0.38"/>
<rect x="769.13" y="194.3" width="3" height="9.0" fill="#f23645" rx="0.4"/>
<rect x="774.14" y="197.1" width="1" height="10.8" fill="#089981" fill-opacity="0.38"/>
<rect x="773.14" y="201.4" width="3" height="2.2" fill="#089981" rx="0.4"/>
</g>
</g>
<text x="5.5" y="10.8" font-size="6.8" fill="#1a1a1a" stroke="#1a1a1a" stroke-width="0.15" textLength="212.5" lengthAdjust="spacingAndGlyphs">kanguhalubale created with TradingView.com, Apr 30, 2026 14:14 UTC</text>
<text x="9.9" y="25.1" font-size="6.7" fill="#333" stroke="#333" stroke-width="0.12" textLength="111.5" lengthAdjust="spacingAndGlyphs">Ethereum / U.S. Dollar · 1D · Bitstamp</text>
<text x="125.7" y="25.1" font-size="6.7" fill="#333" textLength="27.2" lengthAdjust="spacingAndGlyphs">O<tspan fill="#089981">2,252.2</tspan></text>
<text x="157.0" y="25.1" font-size="6.7" fill="#333" textLength="26.2" lengthAdjust="spacingAndGlyphs">H<tspan fill="#089981">2,278.2</tspan></text>
<text x="187.4" y="25.1" font-size="6.7" fill="#333" textLength="25.5" lengthAdjust="spacingAndGlyphs">L<tspan fill="#089981">2,251.0</tspan></text>
<text x="217.1" y="25.1" font-size="6.7" fill="#333" textLength="25.8" lengthAdjust="spacingAndGlyphs">C<tspan fill="#089981">2,261.0</tspan></text>
<text x="247.1" y="25.1" font-size="6.7" fill="#089981" stroke="#089981" stroke-width="0.12" textLength="42.9" lengthAdjust="spacingAndGlyphs">+8.4 (+0.37%)</text>
<text x="9.9" y="34.0" font-size="6.7" fill="#333" stroke="#333" stroke-width="0.12" textLength="120.8" lengthAdjust="spacingAndGlyphs">SMAs (50, close, 100, close, 200, close)</text>
<text x="135" y="34.0" font-size="6.7" fill="#fff200" stroke="#fff200" stroke-width="0.12" textLength="22.1" lengthAdjust="spacingAndGlyphs">2,202.9</text>
<text x="161.4" y="34.0" font-size="6.7" fill="#7d1111" stroke="#7d1111" stroke-width="0.12" textLength="21.5" lengthAdjust="spacingAndGlyphs">2,204.7</text>
<text x="187.4" y="34.0" font-size="6.7" fill="#6237c6" stroke="#6237c6" stroke-width="0.12" textLength="21.9" lengthAdjust="spacingAndGlyphs">2,744.5</text>
<text x="857.8" y="35.5" font-size="6.9" fill="#3a3d46" stroke="#3a3d46" stroke-width="0.1" textLength="23.3" lengthAdjust="spacingAndGlyphs">3,100.0</text>
<text x="857.8" y="52.9" font-size="6.9" fill="#3a3d46" stroke="#3a3d46" stroke-width="0.1" textLength="23.3" lengthAdjust="spacingAndGlyphs">3,000.0</text>
<text x="857.8" y="70.9" font-size="6.9" fill="#3a3d46" stroke="#3a3d46" stroke-width="0.1" textLength="23.3" lengthAdjust="spacingAndGlyphs">2,900.0</text>
<text x="857.8" y="89.6" font-size="6.9" fill="#3a3d46" stroke="#3a3d46" stroke-width="0.1" textLength="23.3" lengthAdjust="spacingAndGlyphs">2,800.0</text>
<text x="857.8" y="109.0" font-size="6.9" fill="#3a3d46" stroke="#3a3d46" stroke-width="0.1" textLength="23.3" lengthAdjust="spacingAndGlyphs">2,700.0</text>
<text x="857.8" y="129.0" font-size="6.9" fill="#3a3d46" stroke="#3a3d46" stroke-width="0.1" textLength="23.3" lengthAdjust="spacingAndGlyphs">2,600.0</text>
<text x="857.8" y="149.9" font-size="6.9" fill="#3a3d46" stroke="#3a3d46" stroke-width="0.1" textLength="23.3" lengthAdjust="spacingAndGlyphs">2,500.0</text>
<text x="857.8" y="167.2" font-size="6.9" fill="#3a3d46" stroke="#3a3d46" stroke-width="0.1" textLength="23.3" lengthAdjust="spacingAndGlyphs">2,420.0</text>
<text x="857.8" y="185.1" font-size="6.9" fill="#3a3d46" stroke="#3a3d46" stroke-width="0.1" textLength="23.3" lengthAdjust="spacingAndGlyphs">2,340.0</text>
<text x="857.8" y="242.7" font-size="6.9" fill="#3a3d46" stroke="#3a3d46" stroke-width="0.1" textLength="23.3" lengthAdjust="spacingAndGlyphs">2,100.0</text>
<text x="857.8" y="263.3" font-size="6.9" fill="#3a3d46" stroke="#3a3d46" stroke-width="0.1" textLength="23.3" lengthAdjust="spacingAndGlyphs">2,020.0</text>
<text x="857.8" y="283.4" font-size="6.9" fill="#3a3d46" stroke="#3a3d46" stroke-width="0.1" textLength="23.3" lengthAdjust="spacingAndGlyphs">1,945.0</text>
<text x="857.8" y="300.1" font-size="6.9" fill="#3a3d46" stroke="#3a3d46" stroke-width="0.1" textLength="23.3" lengthAdjust="spacingAndGlyphs">1,885.0</text>
<text x="857.8" y="317.3" font-size="6.9" fill="#3a3d46" stroke="#3a3d46" stroke-width="0.1" textLength="23.3" lengthAdjust="spacingAndGlyphs">1,825.0</text>
<text x="857.8" y="335.1" font-size="6.9" fill="#3a3d46" stroke="#3a3d46" stroke-width="0.1" textLength="23.3" lengthAdjust="spacingAndGlyphs">1,765.0</text>
<text x="857.8" y="353.5" font-size="6.9" fill="#3a3d46" stroke="#3a3d46" stroke-width="0.1" textLength="23.3" lengthAdjust="spacingAndGlyphs">1,705.0</text>
<text x="857.8" y="372.6" font-size="6.9" fill="#3a3d46" stroke="#3a3d46" stroke-width="0.1" textLength="23.3" lengthAdjust="spacingAndGlyphs">1,645.0</text>
<text x="857.8" y="389.0" font-size="6.9" fill="#3a3d46" stroke="#3a3d46" stroke-width="0.1" textLength="23.3" lengthAdjust="spacingAndGlyphs">1,595.0</text>
<text x="857.8" y="405.9" font-size="6.9" fill="#3a3d46" stroke="#3a3d46" stroke-width="0.1" textLength="23.3" lengthAdjust="spacingAndGlyphs">1,545.0</text>
<text x="857.8" y="423.4" font-size="6.9" fill="#3a3d46" stroke="#3a3d46" stroke-width="0.1" textLength="23.3" lengthAdjust="spacingAndGlyphs">1,495.0</text>
<text x="857.8" y="440.8" font-size="6.9" fill="#3a3d46" stroke="#3a3d46" stroke-width="0.1" textLength="23.3" lengthAdjust="spacingAndGlyphs">1,447.0</text>
<text x="857.8" y="457.2" font-size="6.9" fill="#3a3d46" stroke="#3a3d46" stroke-width="0.1" textLength="23.3" lengthAdjust="spacingAndGlyphs">1,403.0</text>
<rect x="853.5" y="15" width="35" height="17.3" fill="#ffffff" stroke="#f6f6f8" stroke-width="0.5" rx="1"/>
<text x="858.9" y="25.7" font-size="6.9" fill="#222" textLength="13.4" lengthAdjust="spacingAndGlyphs">USD</text>
<rect x="852.6" y="93.8" width="30.6" height="8.5" fill="#5b2fc6" rx="0.8"/>
<text x="857.8" y="100.5" font-size="6.9" fill="#fff" textLength="23.3" lengthAdjust="spacingAndGlyphs">2,744.5</text>
<rect x="852.6" y="197" width="35.3" height="16" fill="#089981" rx="1"/>
<text x="857.8" y="203.6" font-size="6.9" fill="#fff" textLength="23.3" lengthAdjust="spacingAndGlyphs">2,261.0</text>
<text x="857.3" y="211.1" font-size="6.9" fill="#fff" fill-opacity="0.75" textLength="27.9" lengthAdjust="spacingAndGlyphs">09:45:53</text>
<rect x="852.6" y="213.7" width="30.6" height="8.7" fill="#2962ff" rx="0.8"/>
<text x="857.8" y="220.6" font-size="6.9" fill="#fff" textLength="23.3" lengthAdjust="spacingAndGlyphs">2,220.9</text>
<rect x="852.6" y="222.9" width="30.6" height="8.4" fill="#800000" rx="0.8"/>
<text x="857.8" y="229.6" font-size="6.9" fill="#fff" textLength="23.3" lengthAdjust="spacingAndGlyphs">2,204.7</text>
<rect x="852.6" y="231.6" width="30.6" height="9.0" fill="#ffff00" rx="0.8"/>
<text x="857.8" y="238.6" font-size="6.9" fill="#222" textLength="23.3" lengthAdjust="spacingAndGlyphs">2,202.9</text>
<rect x="852.6" y="262.1" width="30.6" height="8.7" fill="#2962ff" rx="0.8"/>
<text x="857.8" y="269.0" font-size="6.9" fill="#fff" textLength="23.3" lengthAdjust="spacingAndGlyphs">2,000.0</text>
<rect x="852.6" y="336.0" width="30.6" height="8.6" fill="#2962ff" rx="0.8"/>
<text x="857.8" y="342.8" font-size="6.9" fill="#fff" textLength="23.3" lengthAdjust="spacingAndGlyphs">1,741.8</text>
<text x="52.9" y="468.2" font-size="6.9" fill="#3a3d46" stroke="#3a3d46" stroke-width="0.1" text-anchor="middle" textLength="12.1" lengthAdjust="spacingAndGlyphs">Nov</text>
<text x="173.2" y="468.2" font-size="6.9" fill="#3a3d46" stroke="#3a3d46" stroke-width="0.1" text-anchor="middle" textLength="12.2" lengthAdjust="spacingAndGlyphs">Dec</text>
<text x="297.5" y="468.2" font-size="6.9" fill="#111" stroke="none" stroke-width="0.1" text-anchor="middle" font-weight="bold" textLength="17.1" lengthAdjust="spacingAndGlyphs">2026</text>
<text x="421.8" y="468.2" font-size="6.9" fill="#3a3d46" stroke="#3a3d46" stroke-width="0.1" text-anchor="middle" textLength="11.4" lengthAdjust="spacingAndGlyphs">Feb</text>
<text x="533.9" y="468.2" font-size="6.9" fill="#3a3d46" stroke="#3a3d46" stroke-width="0.1" text-anchor="middle" textLength="12.1" lengthAdjust="spacingAndGlyphs">Mar</text>
<text x="658.7" y="468.2" font-size="6.9" fill="#3a3d46" stroke="#3a3d46" stroke-width="0.1" text-anchor="middle" textLength="11.1" lengthAdjust="spacingAndGlyphs">Apr</text>
<text x="778.5" y="468.2" font-size="6.9" fill="#3a3d46" stroke="#3a3d46" stroke-width="0.1" text-anchor="middle" textLength="12.6" lengthAdjust="spacingAndGlyphs">May</text>
<g>
<circle cx="775.1" cy="437.6" r="5.3" fill="#fff" stroke="#ab47bc" stroke-width="1"/>
<path d="M776.3 433.6 l-3.1 4.3 h2.3 l-1.2 3.7 l3.4 -4.6 h-2.4 z" fill="#9c27b0"/>
<path d="M769.2 436.3 q0.5 2.6 3.1 3.1 q-2.6 0.5 -3.1 3.1 q-0.5 -2.6 -3.1 -3.1 q2.6 -0.5 3.1 -3.1 z" fill="#7c4dff" stroke="#fff" stroke-width="0.5"/>
<g><circle cx="780.3" cy="450.8" r="5.1" fill="#fff" stroke="#f7525f" stroke-width="1.1"/><clipPath id="fc7803"><circle cx="780.3" cy="450.8" r="4.199999999999999"/></clipPath><g clip-path="url(#fc7803)"><rect x="775.3" y="450.1" width="10" height="1.4" fill="#f7525f"/><rect x="775.3" y="453.2" width="10" height="1.8" fill="#f7525f"/><rect x="775.3" y="447.40000000000003" width="10" height="1.3" fill="#f7525f"/></g></g>
<g><circle cx="773.9" cy="450.8" r="5.1" fill="#fff" stroke="#f7525f" stroke-width="1.1"/><clipPath id="fc7739"><circle cx="773.9" cy="450.8" r="4.199999999999999"/></clipPath><g clip-path="url(#fc7739)"><rect x="768.9" y="450.1" width="10" height="1.4" fill="#f7525f"/><rect x="768.9" y="453.2" width="10" height="1.8" fill="#f7525f"/><rect x="768.9" y="445.8" width="7" height="5.8" fill="#4aa3f3"/></g></g>
<g><circle cx="794.9" cy="450.8" r="5.1" fill="#fff" stroke="#f7525f" stroke-width="1.1"/><clipPath id="fc7949"><circle cx="794.9" cy="450.8" r="4.199999999999999"/></clipPath><g clip-path="url(#fc7949)"><rect x="789.9" y="450.1" width="10" height="1.4" fill="#f7525f"/><rect x="789.9" y="453.2" width="10" height="1.8" fill="#f7525f"/><rect x="789.9" y="445.8" width="7" height="5.8" fill="#4aa3f3"/></g></g>
</g>
<g fill="#131722">
<g transform="translate(6.1,482.876) scale(0.443,0.456)"><path d="M14 22H7V11H0V4h14v18z"/><circle cx="20" cy="8" r="4"/><path d="M28 22h-8l7.5-18h8L28 22z"/></g>
<text x="26.2" y="492.7" font-size="10" font-weight="bold" textLength="64" lengthAdjust="spacingAndGlyphs">TradingView</text>
</g>
</svg></body></html>
